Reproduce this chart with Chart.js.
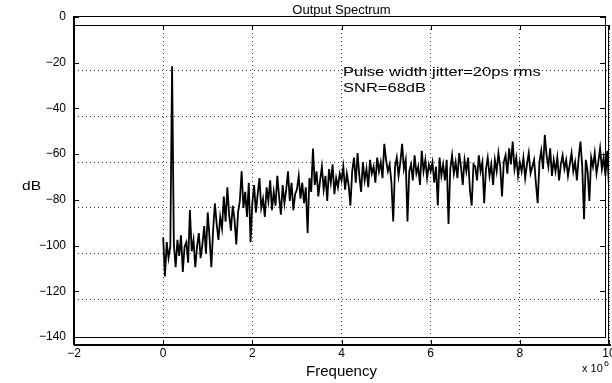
<!DOCTYPE html>
<html>
<head>
<meta charset="utf-8">
<script src="https://cdn.jsdelivr.net/npm/chart.js@4/dist/chart.umd.min.js"></script>
<style>
  html, body { margin: 0; padding: 0; background: #fff; }
</style>
</head>
<body>
<canvas id="spectrum" width="612" height="383"></canvas>
<script>
// Frequency axis (x 10^6 Hz) and dB ticks
const xTicks = [-2, 0, 2, 4, 6, 8, 10];
const yTicks = [-140, -120, -100, -80, -60, -40, -20, 0];
const freqStart = 0;
const freqStep = 0.04;

// Spectrum values in dB, one per frequency bin (0 .. 10 x 10^6)
const spectrumDb = [
  -93, -110, -95, -102, -97, -18, -96, -106, -94, -101, -92, -108, -97, -95, -104, -81, -99, -94, -106, -97, -91, -102, -96, -88, -100,
  -82, -93, -106, -90, -78, -87, -94, -84, -89, -75, -86, -71, -83, -90, -79, -85, -96, -82, -77, -64, -80, -73, -84, -69, -95,
  -78, -70, -82, -74, -67, -80, -76, -84, -71, -77, -68, -81, -73, -79, -66, -75, -83, -70, -78, -72, -64, -77, -69, -81, -74,
  -72, -66, -76, -69, -78, -71, -91, -67, -73, -54, -70, -64, -75, -68, -62, -72, -66, -77, -63, -69, -61, -74, -67, -71, -65,
  -68, -62, -72, -65, -70, -79, -64, -58, -69, -56, -66, -73, -60, -68, -63, -71, -59, -65, -62, -69, -58, -64, -60, -67, -52,
  -59, -64, -61, -69, -86, -62, -58, -66, -60, -52, -63, -59, -86, -64, -61, -68, -57, -65, -62, -70, -55, -64, -59, -67, -61,
  -64, -60, -69, -62, -79, -58, -66, -61, -68, -59, -87, -63, -57, -65, -60, -67, -56, -62, -70, -59, -64, -58, -72, -79, -61,
  -62, -68, -57, -64, -60, -78, -63, -58, -66, -61, -70, -59, -64, -56, -62, -75, -60, -57, -65, -54, -61, -51, -63, -58, -66,
  -60, -64, -58, -67, -61, -56, -65, -62, -59, -69, -78, -60, -55, -63, -48, -57, -62, -54, -66, -59, -64, -58, -68, -61, -57,
  -63, -59, -66, -61, -56, -64, -60, -68, -58, -51, -62, -85, -59, -64, -77, -58, -62, -56, -65, -60, -54, -63, -58, -66, -55, -71
];

const noteLines = ['Pulse width jitter=20ps rms', 'SNR=68dB'];

const fontFamily = '"Liberation Sans", Arial, Helvetica, sans-serif';
const minus = v => String(v).replace('-', '\u2212');

const points = spectrumDb.map((db, i) => ({ x: freqStart + i * freqStep, y: db }));

// text in the reference is a bit wider than tall
function wideText(ctx, text, x, y, size, sx) {
    ctx.save();
    ctx.translate(x, y);
    ctx.scale(sx, 1);
    ctx.font = size + 'px ' + fontFamily;
    ctx.fillText(text, 0, 0);
    ctx.restore();
}

// Frame, inward ticks and free text
const frameAndNotes = {
    id: 'frameAndNotes',
    afterDraw(chart) {
        const { ctx, chartArea: a, scales } = chart;
        const xs = scales.x, ys = scales.y;
        ctx.save();
        ctx.strokeStyle = '#000';
        ctx.lineWidth = 1;

        // grid box
        ctx.strokeRect(a.left + 0.5, a.top + 0.5, a.right - a.left - 1, a.bottom - a.top);
        ctx.lineWidth = 2;
        ctx.beginPath();
        ctx.moveTo(a.left, a.bottom);
        ctx.lineTo(a.right + 2, a.bottom);
        ctx.moveTo(a.left, a.top - 9);
        ctx.lineTo(a.left, a.bottom);
        ctx.stroke();
        ctx.lineWidth = 1;

        // offset box carrying the dB ticks
        const top = a.top - 9, bottom = a.bottom - 8, right = a.right - 4;
        ctx.strokeRect(a.left + 0.5, top + 0.5, right - a.left, bottom - top);

        ctx.beginPath();
        yTicks.forEach(v => {
            const py = Math.round(ys.getPixelForValue(v) - 8) + 0.5;
            ctx.moveTo(a.left, py); ctx.lineTo(a.left + 5, py);
            ctx.moveTo(right - 5, py); ctx.lineTo(right, py);
        });
        xTicks.forEach(v => {
            const px = Math.round(xs.getPixelForValue(v)) + 0.5;
            ctx.moveTo(px, a.bottom); ctx.lineTo(px, a.bottom - 5);
            ctx.moveTo(px, a.top); ctx.lineTo(px, a.top + 5);
        });
        ctx.stroke();

        ctx.fillStyle = '#000';
        ctx.textBaseline = 'middle';
        ctx.textAlign = 'left';
        wideText(ctx, noteLines[0], 343, 72, 13, 1.27);
        wideText(ctx, noteLines[1], 343, 88, 13, 1.27);
        wideText(ctx, 'dB', 22, 186, 13, 1.2);
        wideText(ctx, 'x 10', 582, 369, 10, 1.1);
        wideText(ctx, '6', 604, 364, 8, 1.1);
        ctx.restore();
    }
};

const ctx = document.getElementById('spectrum').getContext('2d');
const spectrumChart = new Chart(ctx, {
    type: 'line',
    data: {
        datasets: [{
            data: points,
            borderColor: '#000',
            borderWidth: 1.8,
            pointRadius: 0,
            tension: 0,
            fill: false
        }]
    },
    options: {
        responsive: false,
        animation: false,
        layout: {
            padding: { left: 0, right: 3, top: 0, bottom: 0 }
        },
        plugins: {
            legend: { display: false },
            tooltip: { enabled: false },
            title: {
                display: true,
                text: 'Output Spectrum',
                color: '#000',
                fullSize: false,
                font: { family: fontFamily, size: 13, weight: 'normal' },
                padding: { top: 3, bottom: 6.4 }
            }
        },
        scales: {
            x: {
                type: 'linear',
                min: -2,
                max: 10,
                afterBuildTicks: s => { s.ticks = xTicks.map(v => ({ value: v })); },
                afterFit: s => { s.height = 38; s.paddingLeft = 0; s.paddingRight = 0; },
                ticks: {
                    color: '#000',
                    font: { family: fontFamily, size: 12 },
                    padding: 1,
                    maxRotation: 0,
                    callback: minus
                },
                grid: { color: '#333', drawTicks: false },
                border: { display: false, dash: [1, 3] },
                title: {
                    display: true,
                    text: 'Frequency',
                    color: '#000',
                    font: { family: fontFamily, size: 15 },
                    padding: { top: 0, bottom: 2 }
                }
            },
            y: {
                min: -140,
                max: 0,
                afterBuildTicks: s => { s.ticks = yTicks.map(v => ({ value: v })); },
                afterFit: s => { s.width = 74; s.paddingTop = 0; s.paddingBottom = 0; },
                ticks: {
                    color: '#000',
                    font: { family: fontFamily, size: 12 },
                    padding: 8,
                    labelOffset: -8,
                    callback: minus
                },
                grid: { color: '#333', drawTicks: false },
                border: { display: false, dash: [1, 3] }
            }
        }
    },
    plugins: [frameAndNotes]
});
</script>
</body>
</html>
